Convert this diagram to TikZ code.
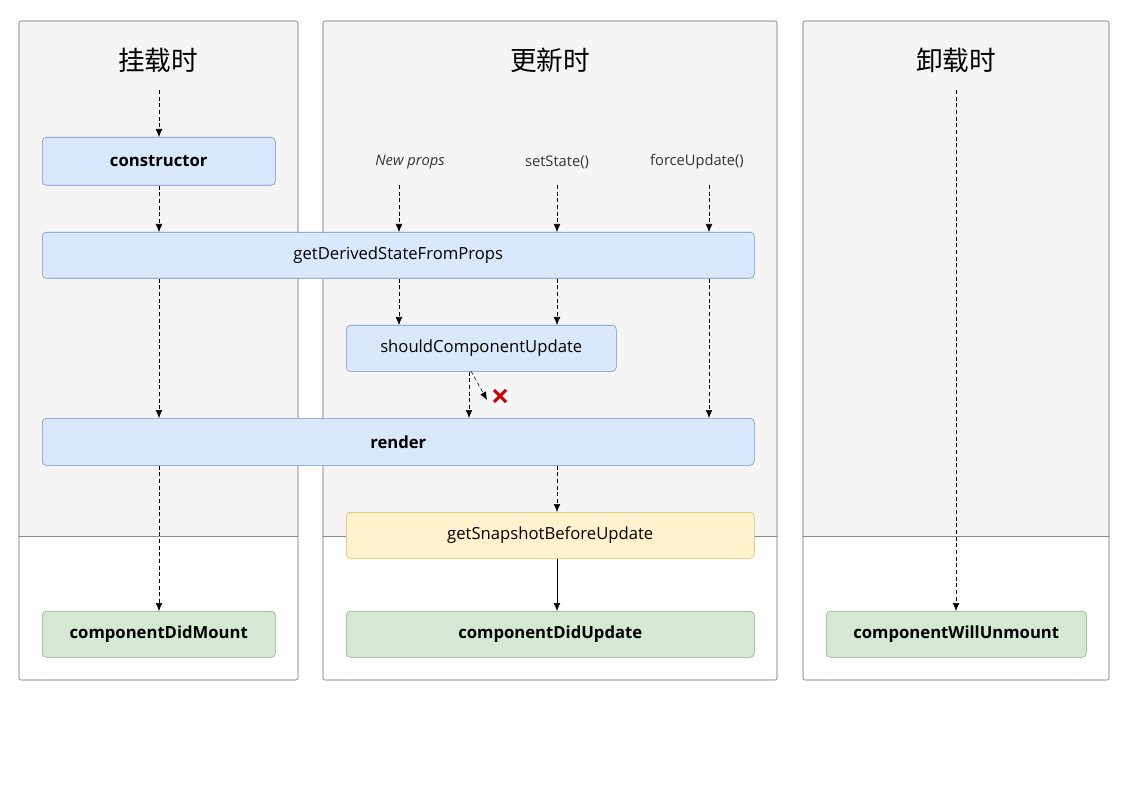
\documentclass[tikz,border=0pt]{standalone}
\usepackage{fontspec}
\setmainfont{Open Sans}
\newfontfamily\cjk{Noto Sans CJK SC}
\usetikzlibrary{arrows.meta,calc}
\definecolor{bf}{HTML}{DAE8FC}\definecolor{bs}{HTML}{6C8EBF}
\definecolor{yf}{HTML}{FFF2CC}\definecolor{ys}{HTML}{D6B656}
\definecolor{gf}{HTML}{D5E8D4}\definecolor{gs}{HTML}{82B366}
\definecolor{pg}{HTML}{F5F5F5}
\begin{document}
\begin{tikzpicture}[x=0.75pt,y=-0.75pt,
 box/.style={draw,rounded corners=3pt,font=\fontsize{12.5}{14}\selectfont,inner sep=0pt,anchor=north west},
 blue/.style={box,fill=bf,draw=bs},yel/.style={box,fill=yf,draw=ys},grn/.style={box,fill=gf,draw=gs},
 bld/.style={font=\fontsize{12.5}{14}\selectfont\bfseries},
 arr/.style={-{Latex[length=6pt,width=5pt]},densely dashed,thin},
 sarr/.style={-{Latex[length=6pt,width=5pt]},thin},
 title/.style={font=\cjk\fontsize{20}{24}\selectfont},
 lab/.style={font=\fontsize{11}{12}\selectfont,text=black!80}]
\useasboundingbox (0,0) rectangle (1133,788);
\foreach \a/\b in {19/298,323/777,803/1109}{
 \fill[pg] (\a,21) rectangle (\b,536);
 \draw[black!45] (\a,536) -- (\b,536);
 \draw[black!60,rounded corners=1.5pt] (\a,21) rectangle (\b,680);}
\node[title] at (158,60) {挂载时};
\node[title] at (550,60) {更新时};
\node[title] at (956,60) {卸载时};
\coordinate (t1) at (159,90); \coordinate (t3) at (956,90);
\node[blue,bld,minimum width=174.75pt,minimum height=36pt] (con) at (42,137) {constructor};
\node[blue,minimum width=534pt,minimum height=34.5pt] (gd) at (42,232) {getDerivedStateFromProps};
\node[blue,minimum width=202.5pt,minimum height=34.5pt] (scu) at (346,325) {shouldComponentUpdate};
\node[blue,bld,minimum width=534pt,minimum height=35.25pt] (ren) at (42,418) {render};
\node[yel,minimum width=306pt,minimum height=34.5pt] (gs) at (346,512) {getSnapshotBeforeUpdate};
\node[grn,bld,minimum width=174.75pt,minimum height=34.5pt] (cdm) at (42,611) {componentDidMount};
\node[grn,bld,minimum width=306pt,minimum height=34.5pt] (cdu) at (346,611) {componentDidUpdate};
\node[grn,bld,minimum width=195pt,minimum height=34.5pt] (cwu) at (826,611) {componentWillUnmount};
\node[lab,font=\fontsize{11}{12}\selectfont\itshape] (np) at (410,162) {New props};
\node[lab] (ss) at (557,162) {setState()};
\node[lab] (fu) at (697,162) {forceUpdate()};
\coordinate (a1) at (399,185); \coordinate (a2) at (557,185); \coordinate (a3) at (709,185);
\draw[arr] (t1) -- (con.north -| t1);
\draw[arr] (con.south -| t1) -- (gd.north -| t1);
\draw[arr] (gd.south -| t1) -- (ren.north -| t1);
\draw[arr] (ren.south -| t1) -- (cdm.north -| t1);
\foreach \c in {a1,a2,a3}{\draw[arr] (\c) -- (gd.north -| \c);}
\draw[arr] (gd.south -| a1) -- (scu.north -| a1);
\draw[arr] (gd.south -| a2) -- (scu.north -| a2);
\draw[arr] (gd.south -| a3) -- (ren.north -| a3);
\coordinate (s1) at (469,371);
\draw[arr] (scu.south -| s1) -- (ren.north -| s1);
\coordinate (xm) at (500,396);
\coordinate (d1) at (471,371); \coordinate (d2) at (487,400);
\draw[arr] (d1) -- (d2);
\draw[red!80!black,line width=2.2pt] ($(xm)+(-6,-6)$) -- ($(xm)+(6,6)$) ($(xm)+(-6,6)$) -- ($(xm)+(6,-6)$);
\draw[arr] (ren.south -| a2) -- (gs.north -| a2);
\draw[sarr] (gs.south -| a2) -- (cdu.north -| a2);
\draw[arr] (t3) -- (cwu.north -| t3);
\end{tikzpicture}
\end{document}
